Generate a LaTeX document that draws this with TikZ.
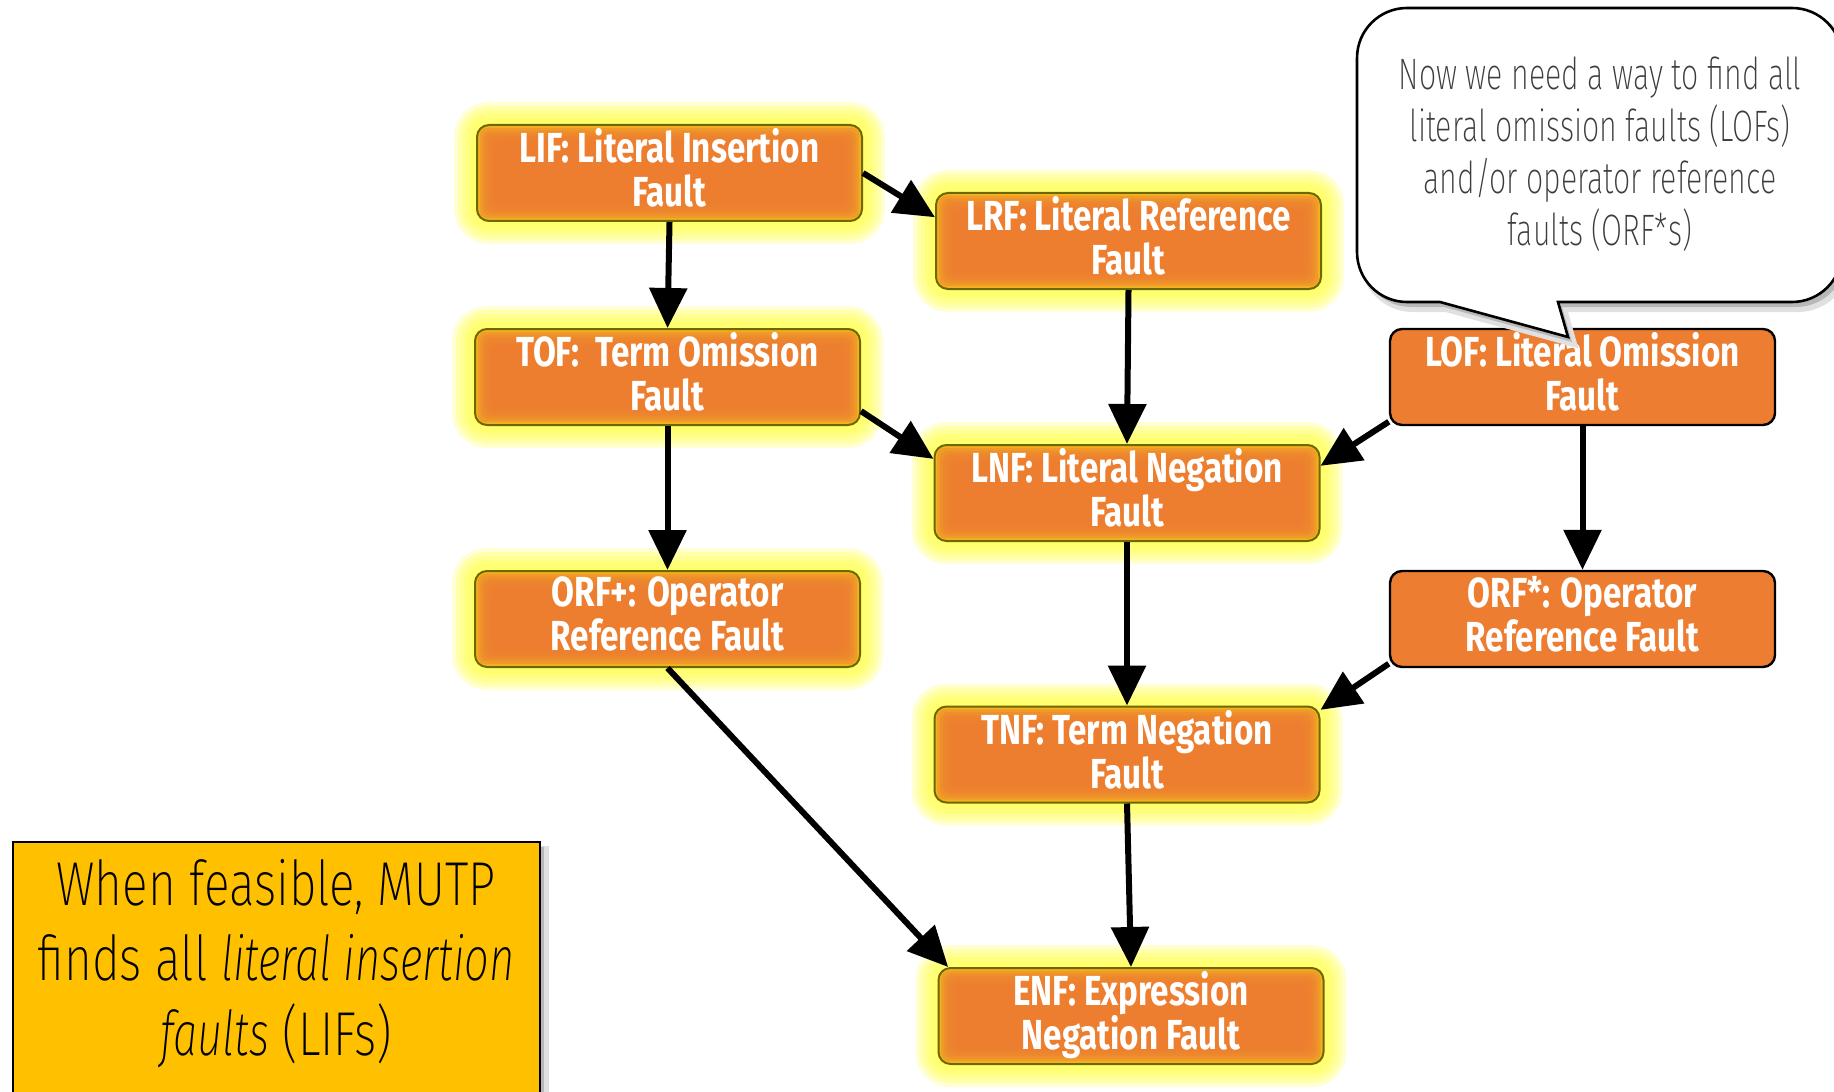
\documentclass[tikz,border=0pt]{standalone}
\usepackage{fontspec}
\newfontfamily\boxfont{Fira Sans}[FakeStretch=0.79]
\newfontfamily\thinfont{Fira Sans}[UprightFont=* ExtraLight, ItalicFont=* ExtraLight Italic, FakeStretch=0.69]
\newfontfamily\notefont{Fira Sans}[UprightFont=* ExtraLight, ItalicFont=* ExtraLight Italic,
  UprightFeatures={FakeStretch=0.77}, ItalicFeatures={FakeStretch=0.70}]
\usetikzlibrary{arrows.meta}

\definecolor{faultorange}{HTML}{ED7D31}
\definecolor{rimamber}{HTML}{F3B022}
\definecolor{glowyellow}{HTML}{FFFF40}
\definecolor{olivedge}{HTML}{6E6800}
\definecolor{notegold}{HTML}{FFC000}
\definecolor{notetext}{HTML}{3C3C3C}

\tikzset{
  fault/.style={rounded corners=6pt, minimum width=192.5pt, minimum height=48pt,
    align=center, text=white, inner sep=0pt, text depth=5.2pt,
    font=\boxfont\bfseries\fontsize{21}{22}\selectfont},
  halo/.style={preaction={draw=glowyellow, opacity=0.24, line width=#1}},
  glowfault/.style={fault, draw=olivedge, line width=1pt, fill=rimamber,
    halo=23pt, halo=19pt, halo=15pt, halo=11pt, halo=7pt,
    path picture={
      \foreach \k in {1,...,6}{
        \fill[faultorange, opacity=0.4, rounded corners=4pt]
          ([shift={({\k*1.4pt},{-\k*1.4pt})}]path picture bounding box.north west)
          rectangle
          ([shift={({-\k*1.4pt},{\k*1.4pt})}]path picture bounding box.south east);
      }}},
  plainfault/.style={fault, draw=black, line width=1.2pt, fill=faultorange},
  flow/.style={line width=3pt, -{Triangle[width=18.5pt,length=20pt]}},
  softshadow/.style={
    preaction={fill=black!12, draw=black!12, line width=3pt,
      transform canvas={xshift=3pt, yshift=-3.5pt}},
    preaction={fill=black!28, transform canvas={xshift=2pt, yshift=-2.5pt}}}
}

\begin{document}
\begin{tikzpicture}[x=0.5pt,y=-0.5pt]
\useasboundingbox (0,0) rectangle (1834,1091);
\fill[white] (0,0) rectangle (1834,1091);
\clip (0,0) rectangle (1834,1091);

% fault classes
\node[glowfault] (LIF)  at (669.5,173)  {LIF: Literal Insertion\\Fault};
\node[glowfault] (LRF)  at (1128.5,241) {LRF: Literal Reference\\Fault};
\node[glowfault] (TOF)  at (667.5,377)  {TOF:\ \ Term Omission\\Fault};
\node[glowfault] (LNF)  at (1127,493)   {LNF: Literal Negation\\Fault};
\node[glowfault] (ORFp) at (667.5,619)  {ORF+: Operator\\Reference Fault};
\node[glowfault] (TNF)  at (1127,754.5) {TNF: Term Negation\\Fault};
\node[glowfault] (ENF)  at (1131,1016)  {ENF: Expression\\Negation Fault};
\node[plainfault] (LOF)  at (1582.5,377) {LOF: Literal Omission\\Fault};
\node[plainfault] (ORFs) at (1582.5,619) {ORF*: Operator\\Reference Fault};

% subsumption arrows
\draw[flow] (LIF.south) -- (TOF.north);
\draw[flow] (LIF.east) -- (LRF.173.5);
\draw[flow] (LRF.south) -- (LNF.north);
\draw[flow] (TOF.-10.6) -- (LNF.170);
\draw[flow] (TOF.south) -- (ORFp.north);
\draw[flow] (LOF.193.2) -- (LNF.8);
\draw[flow] (LOF.south) -- (ORFs.north);
\draw[flow] (LNF.south) -- (TNF.north);
\draw[flow] (ORFs.193) -- (TNF.13.3);
\draw[flow] (ORFp.south) -- (ENF.165);
\draw[flow] (TNF.south) -- (ENF.north);

% speech bubble
\filldraw[fill=white, draw=black, line width=1.3pt, softshadow]
  (1440,302) -- (1407,302) arc[start angle=270, end angle=180, radius=25pt]
  -- (1357,58) arc[start angle=180, end angle=90, radius=25pt]
  -- (1792,8) arc[start angle=90, end angle=0, radius=25pt]
  -- (1842,252) arc[start angle=0, end angle=-90, radius=25pt]
  -- (1558,302) -- (1568,337) -- cycle;
\node[font=\thinfont\fontsize{22}{26}\selectfont, text=notetext, align=center]
  (bubbletext) at (1600,154)
  {Now we need a way to find all\\literal omission faults (LOFs)\\and/or operator reference\\faults (ORF*s)};

% note box
\node[draw=black, fill=notegold, line width=1pt, minimum width=263.5pt,
  minimum height=140pt, inner sep=0pt, softshadow] (notebox) at (276.5,982) {};
\node[font=\notefont\fontsize{31}{37.5}\selectfont, text=black, align=center]
  (notetext) at (276,964)
  {When feasible, MUTP\\finds all \textit{literal insertion}\\\textit{faults} (LIFs)};
\end{tikzpicture}
\end{document}
